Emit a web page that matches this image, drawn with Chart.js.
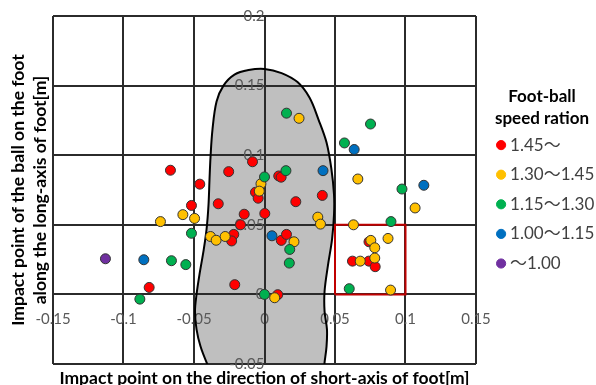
<!DOCTYPE html>
<html>
<head>
<meta charset="utf-8">
<title>Impact point of the ball on the foot</title>
<script src="https://cdn.jsdelivr.net/npm/chart.js@4.4.1/dist/chart.umd.min.js"></script>
<style>
  html, body { margin: 0; padding: 0; background: #fff; }
  #wrap { width: 596px; height: 385px; }
</style>
</head>
<body>
<div id="wrap"><canvas id="impactChart" width="596" height="385"></canvas></div>
<script>
// speed ratio groups (legend order)
const groupLabels = ['1.45～', '1.30～1.45', '1.15～1.30', '1.00～1.15', '～1.00'];
const groupColors = ['#FF0000', '#FFC000', '#00B050', '#0070C0', '#7030A0'];

// impact points [short-axis x, long-axis y] in metres
const ratio145 = [
    [-0.0667, 0.0892], [-0.0254, 0.0882], [-0.0085, 0.0953], [0.0101, 0.0851], [0.0118, 0.0842],
    [-0.0459, 0.0792], [-0.0064, 0.0734], [-0.0045, 0.0691], [-0.0518, 0.0639], [-0.0328, 0.0651],
    [-0.0144, 0.0576], [0.0002, 0.0581], [0.0222, 0.0666], [0.0410, 0.0711], [-0.0170, 0.0500],
    [-0.0218, 0.0431], [-0.0233, 0.0384], [0.0119, 0.0388], [0.0156, 0.0431], [-0.0818, 0.0050],
    [-0.0211, 0.0070], [0.0094, -0.0002], [0.0741, 0.0378], [0.0624, 0.0239], [0.0740, 0.0239],
    [0.0785, 0.0199]
];
const ratio130 = [
    [0.0245, 0.1265], [-0.0025, 0.0795], [-0.0037, 0.0742], [0.0662, 0.0829], [-0.0738, 0.0523],
    [-0.0579, 0.0573], [-0.0496, 0.0546], [0.0378, 0.0555], [0.0397, 0.0505], [-0.0383, 0.0416],
    [-0.0343, 0.0389], [-0.0279, 0.0416], [0.0209, 0.0378], [0.0072, -0.0024], [0.1068, 0.0621],
    [0.0631, 0.0500], [0.0876, 0.0402], [0.0754, 0.0388], [0.0782, 0.0335], [0.0679, 0.0239],
    [0.0782, 0.0261], [0.0894, 0.0031]
];
const ratio115 = [
    [0.0156, 0.1302], [0.0752, 0.1224], [0.0567, 0.1088], [0.0000, 0.0844], [0.0152, 0.0889],
    [0.0975, 0.0757], [0.0897, 0.0523], [-0.0518, 0.0439], [0.0179, 0.0323], [0.0176, 0.0225],
    [-0.0660, 0.0242], [-0.0558, 0.0214], [-0.0884, -0.0034], [0.0000, 0.0000], [0.0601, 0.0041]
];
const ratio100 = [
    [0.0636, 0.1041], [0.0415, 0.0889], [0.1130, 0.0784], [0.0053, 0.0421], [-0.0856, 0.0249]
];
const ratioBelow100 = [
    [-0.1128, 0.0256]
];

// foot outline (sole), traced clockwise from the heel
const footOutline = [
    [-0.0355, -0.0610], [-0.0411, -0.0488], [-0.0454, -0.0373], [-0.0482, -0.0251], [-0.0493, -0.0122],
    [-0.0482, 0.0000], [-0.0461, 0.0144], [-0.0433, 0.0309], [-0.0411, 0.0467], [-0.0397, 0.0646],
    [-0.0390, 0.0826], [-0.0383, 0.0983], [-0.0369, 0.1184], [-0.0340, 0.1385], [-0.0291, 0.1500],
    [-0.0213, 0.1579], [-0.0113, 0.1612], [0.0000, 0.1620], [0.0121, 0.1590], [0.0234, 0.1525],
    [0.0319, 0.1414], [0.0383, 0.1256], [0.0440, 0.1091], [0.0475, 0.0897], [0.0493, 0.0718],
    [0.0493, 0.0574], [0.0479, 0.0395], [0.0450, 0.0208], [0.0426, 0.0022], [0.0426, -0.0122],
    [0.0443, -0.0251], [0.0440, -0.0373], [0.0426, -0.0488], [0.0411, -0.0610], [-0.0355, -0.0610]
];

// highlighted region
const boxCorners = [[0.05, 0], [0.1, 0], [0.1, 0.05], [0.05, 0.05], [0.05, 0]];

const xTitle = 'Impact point on the direction of short-axis of foot[m]';
const yTitle = ['Impact point of the ball on the foot', 'along the long-axis of foot[m]'];
const legendTitle = ['Foot-ball', 'speed ration'];

const groups = [ratio145, ratio130, ratio115, ratio100, ratioBelow100];
const toXY = arr => arr.map(p => ({ x: p[0], y: p[1] }));
const tickText = v => String(Number(v.toFixed(2)));

const gridColor = '#2b2b2b';
Chart.defaults.font.family = "Lato, 'Noto Sans CJK JP', sans-serif";

// axis used only for a title, no ticks or lines
function titleAxis(axis, position, title) {
    return {
        type: 'linear',
        axis: axis,
        position: position,
        grid: { display: false, drawTicks: false },
        border: { display: false },
        ticks: { display: false },
        title: title
    };
}

document.addEventListener('DOMContentLoaded', function() {
    const ctx = document.getElementById('impactChart').getContext('2d');

    const pointSets = groups.map((pts, i) => ({
        label: groupLabels[i],
        data: toXY(pts),
        backgroundColor: groupColors[i],
        borderColor: '#333333',
        borderWidth: 1,
        pointRadius: 5,
        order: groups.length - i
    }));

    const spacer = titleAxis('y', 'right', { display: false });
    spacer.afterFit = s => { s.width = 12; };

    new Chart(ctx, {
        type: 'scatter',
        data: {
            datasets: pointSets.concat([
                {
                    label: 'box',
                    data: toXY(boxCorners),
                    showLine: true,
                    borderColor: '#C00000',
                    borderWidth: 2,
                    pointRadius: 0,
                    fill: false,
                    order: 10
                },
                {
                    label: 'foot',
                    data: toXY(footOutline),
                    showLine: true,
                    borderColor: '#000000',
                    borderWidth: 2,
                    backgroundColor: '#BFBFBF',
                    fill: 'shape',
                    tension: 0.35,
                    capBezierPoints: false,
                    pointRadius: 0,
                    order: 20
                }
            ])
        },
        options: {
            responsive: false,
            devicePixelRatio: 1,
            animation: false,
            events: [],
            layout: {
                padding: { top: 16, left: 0, right: 0, bottom: 0 }
            },
            plugins: {
                filler: { drawTime: 'beforeDraw' },
                tooltip: { enabled: false },
                legend: {
                    position: 'right',
                    align: 'start',
                    maxWidth: 108,
                    title: {
                        display: true,
                        text: legendTitle,
                        color: '#000000',
                        position: 'center',
                        font: { size: 17, weight: 'bold', lineHeight: '22px' },
                        padding: { top: 72, bottom: 14 }
                    },
                    labels: {
                        usePointStyle: true,
                        boxWidth: 1,
                        boxHeight: 6.5,
                        padding: 12.6,
                        color: '#404040',
                        font: { size: 17 },
                        sort: (a, b) => a.datasetIndex - b.datasetIndex,
                        generateLabels: chart => Chart.defaults.plugins.legend.labels
                            .generateLabels(chart)
                            .filter(item => item.datasetIndex < groups.length)
                            .map(item => Object.assign(item, { strokeStyle: item.fillStyle }))
                    }
                }
            },
            scales: {
                x: {
                    type: 'linear',
                    min: -0.15,
                    max: 0.15,
                    position: { y: 0 },
                    grid: { color: gridColor, lineWidth: 2, drawTicks: false },
                    border: { color: gridColor, width: 2 },
                    ticks: {
                        stepSize: 0.05,
                        padding: 16,
                        maxRotation: 0,
                        autoSkip: false,
                        color: '#595959',
                        font: { size: 15 },
                        callback: tickText
                    }
                },
                y: {
                    type: 'linear',
                    min: -0.05,
                    max: 0.2,
                    position: { x: 0 },
                    grid: { color: gridColor, lineWidth: 2, drawTicks: false },
                    border: { color: gridColor, width: 2 },
                    ticks: {
                        stepSize: 0.05,
                        padding: 18,
                        autoSkip: false,
                        color: '#595959',
                        font: { size: 15 },
                        callback: tickText
                    },
                    // labels sit inside the plot, so they need no room outside it
                    afterFit: s => { s.paddingTop = 0; s.paddingBottom = 0; }
                },
                xTitle: titleAxis('x', 'bottom', {
                    display: true,
                    text: xTitle,
                    color: '#000000',
                    font: { size: 17.5, weight: 'bold', lineHeight: '14px' },
                    padding: { top: 7, bottom: 0 }
                }),
                yTitle: titleAxis('y', 'left', {
                    display: true,
                    text: yTitle,
                    color: '#000000',
                    font: { size: 17.5, weight: 'bold', lineHeight: '22px' },
                    padding: { top: 7, bottom: 2 }
                }),
                gap: spacer
            }
        }
    });
});
</script>
</body>
</html>
